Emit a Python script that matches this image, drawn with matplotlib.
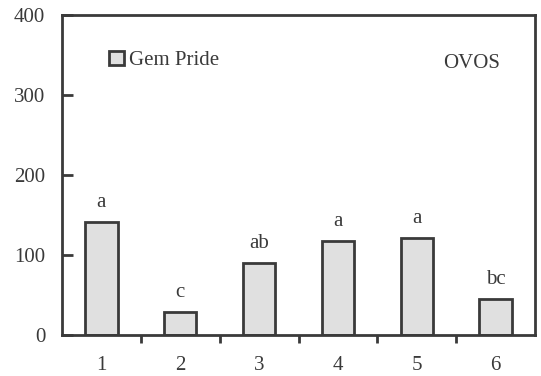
import matplotlib
matplotlib.use('Agg')
import matplotlib.pyplot as plt
from matplotlib.patches import Patch

plt.rcParams['font.family'] = ['Liberation Serif', 'DejaVu Serif']

# data
categories = ['1', '2', '3', '4', '5', '6']
values = [141, 29, 90, 117, 121, 45]
letters = ['a', 'c', 'ab', 'a', 'a', 'bc']
yticks = [0, 100, 200, 300, 400]

INK = '#3a3a3a'
FILL = '#e0e0e0'

fig = plt.figure(figsize=(5.41, 3.76), dpi=100)
ax = fig.add_axes([0.1146, 0.109, 0.8744, 0.851])

x = list(range(1, len(categories) + 1))
ax.bar(x, values, width=0.41, color=FILL, edgecolor=INK, linewidth=2.0, zorder=2)

# significance letters
for xi, v, lab in zip(x, values, letters):
    ax.text(xi, v + 19, lab, ha='center', va='baseline', fontsize=15, color=INK)

ax.set_xlim(0.5, 6.5)
ax.set_ylim(0, 400)
ax.set_yticks(yticks)
ax.set_yticklabels([str(t) for t in yticks], fontsize=15, color=INK)
ax.set_xticks(x)
ax.set_xticklabels(categories, fontsize=15, color=INK)
ax.set_xticks([1.5, 2.5, 3.5, 4.5, 5.5], minor=True)

ax.tick_params(axis='x', which='major', length=0, pad=15)
ax.tick_params(axis='x', which='minor', direction='out', length=6, width=2, color=INK)
ax.tick_params(axis='y', direction='in', length=8, width=2, color=INK, pad=12)

for s in ax.spines.values():
    s.set_linewidth(2)
    s.set_color(INK)

leg = ax.legend(handles=[Patch(facecolor=FILL, edgecolor=INK, linewidth=2, label='Gem Pride')],
                loc='upper left', bbox_to_anchor=(0.082, 0.915), frameon=False,
                fontsize=15, handlelength=0.7, handleheight=0.7, handletextpad=0.25,
                borderaxespad=0)
for t in leg.get_texts():
    t.set_color(INK)

ax.text(0.866, 0.847, 'OVOS', transform=ax.transAxes, ha='center', va='center',
        fontsize=15, color=INK)

fig.savefig('out.png', dpi=100)
